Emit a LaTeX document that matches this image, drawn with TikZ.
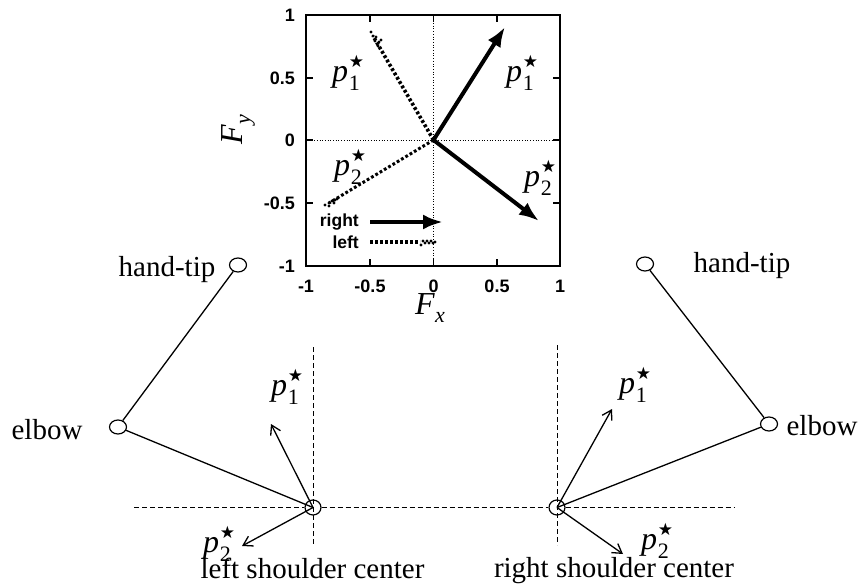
\documentclass[tikz,border=0pt]{standalone}
\usepackage{fontspec}
\setmainfont{Liberation Serif}
\setsansfont{Liberation Sans}
\newfontfamily\symfont{DejaVu Sans}
\usetikzlibrary{arrows.meta,shapes.geometric}
\newcommand{\pstar}[1]{\textit{p}\kern.03em\rlap{\raisebox{.42em}{\symfont\fontsize{17}{17}\selectfont ★}}\raisebox{-.3em}{\fontsize{22}{22}\selectfont #1}}
\tikzset{
  lab/.style={font=\fontsize{29}{30}\selectfont,inner sep=0pt},
  big/.style={font=\fontsize{32}{32}\selectfont,inner sep=0pt},
  tick/.style={font=\sffamily\bfseries\fontsize{18}{18}\selectfont,inner sep=0pt},
  leg/.style={font=\sffamily\bfseries\fontsize{17.5}{16}\selectfont,inner sep=0pt,anchor=east},
  joint/.style={draw,ellipse,minimum width=17pt,minimum height=14pt,inner sep=0pt,line width=1.2pt,fill=white},
  sjoint/.style={draw,ellipse,minimum width=16pt,minimum height=15pt,inner sep=0pt,line width=1.2pt},
  limb/.style={line width=1.3pt},
  guide/.style={line width=1pt,dash pattern=on 5pt off 3pt},
  force/.style={line width=1.3pt,-{Straight Barb[length=9pt,width=11pt]}},
  rightv/.style={line width=4pt,-{Latex[length=20pt,width=15pt]}},
  leftv/.style={line width=3.6pt,dash pattern=on 2.8pt off 2.2pt},
  fine/.style={line width=.7pt,dotted},
  frame/.style={line width=1.5pt}
}
\begin{document}
\begin{tikzpicture}[x=1pt,y=-1pt]
\useasboundingbox (0,0) rectangle (859,585);
% plot frame
\coordinate (bl) at (306,266); \coordinate (tr) at (560,15);
\coordinate (o) at (433.5,140);
\draw[fine] (306,140) -- (560,140);
\draw[fine] (433.5,15) -- (433.5,266);
\draw[frame] (bl) rectangle (tr);
\foreach \x in {370,433.5,497} {\draw[frame] (\x,266) -- (\x,259); \draw[frame] (\x,15) -- (\x,22);}
\foreach \y in {78,140,203} {\draw[frame] (306,\y) -- (313,\y); \draw[frame] (560,\y) -- (553,\y);}
\foreach \x/\t in {306/-1,370/-0.5,433.5/0,497/0.5,560/1} \node[tick] at (\x,286) {\t};
\foreach \y/\t in {15/1,78/0.5,140/0,203/-0.5,266/-1} \node[tick,anchor=east] at (295,\y) {\t};
% plot vectors
\coordinate (r1) at (505,27); \coordinate (r2) at (539,221);
\coordinate (l1) at (373,36); \coordinate (l2) at (329,203);
\draw[rightv] (o) -- (r1);
\draw[rightv] (o) -- (r2);
\draw[leftv] (o) -- (l1);
\draw[leftv,line width=3pt] (o) -- (l2);
% scatter at the ends of the left-arm vectors
\foreach \x/\y in {371/32,373/36,376/37,375/41,379/42,381/40,378/46}
  \fill (\x,\y) circle (1.7pt);
\foreach \x/\y in {325/205,329/203,332/201,329/206,335/200,337/199,334/203}
  \fill (\x,\y) circle (1.7pt);
% legend
\node[leg] (tr1) at (359,222) {right};
\node[leg] (tl1) at (359,242) {left};
\coordinate (a1) at (370,222); \coordinate (a2) at (443,222);
\coordinate (b1) at (370,242); \coordinate (b2) at (420,242);
\draw[rightv] (a1) -- (a2);
\draw[leftv] (b1) -- (b2);
\foreach \x/\y in {421/245,423/241,425/243,427/241,429/243,431/241,433/243,435/242}
  \fill (\x,\y) circle (1.6pt);
% plot labels
\node[big] (pa) at (346,73) {\pstar{1}};
\node[big] (pb) at (520,73) {\pstar{1}};
\node[big] (pc) at (348,167) {\pstar{2}};
\node[big] (pd) at (538,178) {\pstar{2}};
\node[big] (fx) at (430,308) {\textit{F}\raisebox{-.25em}{\fontsize{22}{22}\selectfont\textit{x}}};
\node[big,rotate=90] (fy) at (238,130) {\textit{F}\raisebox{-.25em}{\fontsize{22}{22}\selectfont\textit{y}}};
% arms
\node[joint] (lh) at (238,265) {};
\node[joint] (le) at (118,427) {};
\node[sjoint] (ls) at (313,507.5) {};
\node[joint] (rh) at (645,264) {};
\node[joint] (re) at (769,424) {};
\node[sjoint] (rs) at (557,507.5) {};
\draw[limb] (lh) -- (le);
\draw[limb] (le) -- (ls.center);
\draw[limb] (rh) -- (re);
\draw[limb] (re) -- (rs.center);
% guides
\coordinate (g1) at (134,507.5); \coordinate (g2) at (734,507.5);
\coordinate (g3) at (313,347); \coordinate (g4) at (313,545);
\coordinate (g5) at (557,345); \coordinate (g6) at (557,545);
\draw[guide] (g1) -- (ls);
\draw[guide] (ls) -- (rs);
\draw[guide] (rs) -- (g2);
\draw[guide] (g3) -- (g4);
\draw[guide] (g5) -- (g6);
% force vectors
\coordinate (f1) at (271,424); \coordinate (f2) at (242,546);
\coordinate (f3) at (612,409); \coordinate (f4) at (623,554);
\draw[force] (ls.center) -- (f1);
\draw[force] (ls.center) -- (f2);
\draw[force] (rs.center) -- (f3);
\draw[force] (rs.center) -- (f4);
% texts
\node[lab] (t1) at (167,270) {hand-tip};
\node[lab] (t2) at (742,266) {hand-tip};
\node[lab] (t3) at (47,430) {elbow};
\node[lab] (t4) at (822,426) {elbow};
\node[lab,anchor=base] (t5) at (312.5,578) {left shoulder center};
\node[lab,anchor=base] (t6) at (614,577) {right shoulder center};
\node[big] (q1) at (285,387) {\pstar{1}};
\node[big] (q2) at (217,544) {\pstar{2}};
\node[big] (q3) at (633,385) {\pstar{1}};
\node[big] (q4) at (655,541) {\pstar{2}};
\end{tikzpicture}
\end{document}
